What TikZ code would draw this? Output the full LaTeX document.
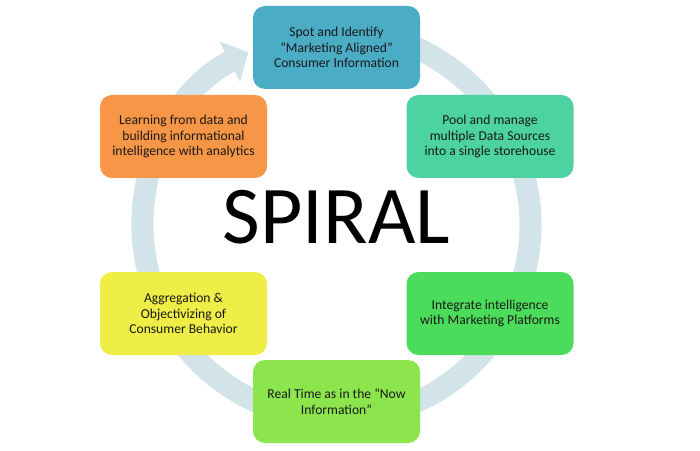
\documentclass[tikz,border=0pt]{standalone}
\usepackage{fontspec}
\setmainfont{Carlito}
\usetikzlibrary{arrows.meta}
\definecolor{spotteal}{HTML}{4BACC6}
\definecolor{poolmint}{HTML}{4DD3A1}
\definecolor{integgreen}{HTML}{4CDC5B}
\definecolor{realgreen}{HTML}{8DE54E}
\definecolor{aggyellow}{HTML}{EEEE46}
\definecolor{learnorange}{HTML}{F79646}
\definecolor{cyclegray}{HTML}{D3E3EA}

\begin{document}
\begin{tikzpicture}[x=1pt,y=1pt,
  stagebox/.style={rounded corners=12pt,minimum width=167pt,minimum height=83pt,inner sep=0,
    align=center,text=black!90,font=\fontsize{13.6}{15.5}\selectfont}]
\useasboundingbox[fill=white] (0,0) rectangle (700,450);
\coordinate (hub) at (336.5,225);
% cycle arrow behind the boxes
\draw[line width=22pt,cyclegray,-{Triangle[width=44pt,length=21pt]}]
  (hub) ++(100:194) arc[start angle=100,end angle=-243,radius=194];
\node[anchor=base,font=\fontsize{82}{82}\selectfont] (title) at (336.5,207) {SPIRAL};
\foreach \n/\x/\y/\c/\t in {
  spot/336.5/402.5/spotteal/{Spot and Identify\\“Marketing Aligned”\\Consumer Information},
  pool/490/313.5/poolmint/{Pool and manage\\multiple Data Sources\\into a single storehouse},
  integrate/490/136.5/integgreen/{Integrate intelligence\\with Marketing Platforms},
  realtime/336.5/48.5/realgreen/{Real Time as in the “Now\\Information”},
  aggregate/183.5/136.5/aggyellow/{Aggregation \&\\Objectivizing of\\Consumer Behavior},
  learning/183.5/313.5/learnorange/{Learning from data and\\building informational\\intelligence with analytics}}
  \node[stagebox,fill=\c] (\n) at (\x,\y) {\t};
\end{tikzpicture}
\end{document}
